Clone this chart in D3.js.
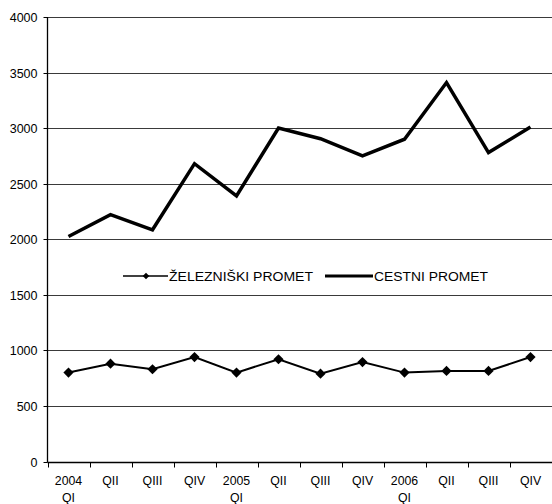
<!DOCTYPE html>
<html><head><meta charset="utf-8">
<script src="https://cdn.jsdelivr.net/npm/d3@7"></script>
<style>body{margin:0;background:#fff}svg{display:block}text{font-family:Arial,"Liberation Sans",sans-serif;fill:#000}</style>
</head><body>
<script>
const years = ["2004","","","","2005","","","","2006","","",""];
const quarters = ["QI","QII","QIII","QIV","QI","QII","QIII","QIV","QI","QII","QIII","QIV"];
const zelezniski = [800,880,830,940,800,920,790,895,800,815,815,940];
const cestni = [2025,2222,2085,2680,2390,3000,2905,2750,2900,3410,2780,3010];
const yTicks = [0,500,1000,1500,2000,2500,3000,3500,4000];
const seriesNames = ["ŽELEZNIŠKI PROMET","CESTNI PROMET"];

const W=552,H=504;
const svg=d3.select("body").append("svg").attr("width",W).attr("height",H);
const idx=d3.range(12);
const x=d3.scaleBand().domain(idx).range([47.5,551.5]);
const y=d3.scaleLinear().domain([0,4000]).range([461.5,17]);
const cx=i=>x(i)+x.bandwidth()/2;

// gridlines
svg.append("g").selectAll("line").data(yTicks.filter(d=>d>0)).join("line")
 .attr("x1",47.5).attr("x2",552).attr("y1",d=>Math.round(y(d))+0.5).attr("y2",d=>Math.round(y(d))+0.5)
 .attr("stroke","#3a3a3a").attr("stroke-width",1);

// y axis
const ya=svg.append("g").attr("transform","translate(47.5,0)")
 .call(d3.axisLeft(y).tickValues(yTicks).tickSize(4).tickPadding(6).tickFormat(d3.format("d")));
ya.select(".domain").attr("d","M0,17V"+(Math.round(y(0))+0.5)).attr("stroke","#000").attr("stroke-width",1.3);
ya.selectAll(".tick").attr("transform",d=>"translate(0,"+(Math.round(y(d))+0.5)+")");
ya.selectAll("text").style("font-size","12.5px").style("font-family","Arial, 'Liberation Sans', sans-serif").attr("fill","#000");

// x axis
const baseY=Math.round(y(0))+0.5;
svg.append("line").attr("x1",47.5).attr("x2",552).attr("y1",baseY).attr("y2",baseY).attr("stroke","#000").attr("stroke-width",1.3);
svg.append("g").selectAll("line").data(d3.range(13)).join("line")
 .attr("x1",i=>Math.round(i<12?x(i):x(11)+x.bandwidth())+0.5).attr("x2",i=>Math.round(i<12?x(i):x(11)+x.bandwidth())+0.5)
 .attr("y1",baseY).attr("y2",baseY+5).attr("stroke","#000");
const xl=svg.append("g").selectAll("g").data(idx).join("g");
xl.append("text").attr("x",cx).attr("y",484.5).attr("text-anchor","middle").style("font-size","12.3px")
 .text(i=>years[i]?years[i]:quarters[i]);
xl.filter(i=>years[i]).append("text").attr("x",cx).attr("y",502).attr("text-anchor","middle").style("font-size","12.3px")
 .text(i=>quarters[i]);

// lines
const line=d3.line().x((d,i)=>cx(i)).y(d=>y(d));
svg.append("path").datum(cestni).attr("d",line).attr("fill","none").attr("stroke","#000").attr("stroke-width",3.5).attr("stroke-linejoin","miter");
svg.append("path").datum(zelezniski).attr("d",line).attr("fill","none").attr("stroke","#000").attr("stroke-width",2);
svg.append("g").selectAll("path").data(zelezniski).join("path")
 .attr("d",d3.symbol().type(d3.symbolSquare).size(52)())
 .attr("transform",(d,i)=>"translate("+cx(i)+","+y(d)+") rotate(45)").attr("fill","#000");

// legend
const ly=276;
const lg=svg.append("g");
lg.append("line").attr("x1",123).attr("x2",168).attr("y1",ly).attr("y2",ly).attr("stroke","#000").attr("stroke-width",1.5);
lg.append("path").attr("d",d3.symbol().type(d3.symbolSquare).size(22)()).attr("transform","translate(146,"+ly+") rotate(45)").attr("fill","#000");
lg.append("text").attr("x",169).attr("y",ly+4.5).style("font-size","12.5px").attr("textLength",144).attr("lengthAdjust","spacingAndGlyphs").text(seriesNames[0]);
lg.append("line").attr("x1",325).attr("x2",373).attr("y1",ly).attr("y2",ly).attr("stroke","#000").attr("stroke-width",3);
lg.append("text").attr("x",374).attr("y",ly+4.5).style("font-size","12.5px").attr("textLength",114).attr("lengthAdjust","spacingAndGlyphs").text(seriesNames[1]);
</script>
</body></html>
